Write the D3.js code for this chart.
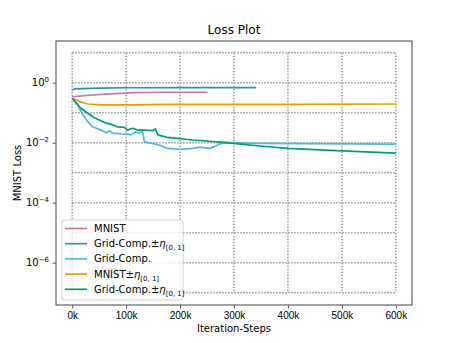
<!DOCTYPE html>
<html>
<head>
<meta charset="utf-8">
<script src="https://cdn.jsdelivr.net/npm/d3@7"></script>
<style>
  body { margin: 0; background: #fff; }
  svg { font-family: "DejaVu Sans", sans-serif; }
</style>
</head>
<body>
<div id="chart"></div>
<script>
// Series data (iteration steps, loss values)
const mnistX = [0, 53000, 115000, 176000, 251000];
const mnistY = [0.34, 0.41, 0.47, 0.48, 0.48];

const gridNoiseAX = [0, 5000, 50000, 100000, 200000, 341000];
const gridNoiseAY = [0.57, 0.62, 0.66, 0.68, 0.69, 0.69];

const gridX = [0, 10000, 20000, 29000, 38000, 53000, 63000, 69000, 75000, 84000, 94000, 103000, 109000, 118000, 124000, 130000, 134000, 152000, 162000, 176000, 200000, 224000, 236000, 255000, 264000, 273000, 286000, 348000, 600000];
const gridY = [0.302, 0.182, 0.0832, 0.0501, 0.0339, 0.0263, 0.0214, 0.0251, 0.0204, 0.0204, 0.0191, 0.0195, 0.0182, 0.0234, 0.0204, 0.0251, 0.0107, 0.00912, 0.00832, 0.00646, 0.00603, 0.00646, 0.00708, 0.00646, 0.00741, 0.00912, 0.0100, 0.00955, 0.00891];

const mnistNoiseX = [0, 16000, 29000, 53000, 115000, 176000, 400000, 600000];
const mnistNoiseY = [0.302, 0.23, 0.195, 0.182, 0.182, 0.19, 0.19, 0.195];

const gridNoiseBX = [0, 16000, 29000, 41000, 53000, 63000, 72000, 84000, 97000, 103000, 112000, 122000, 134000, 149000, 154000, 159000, 176000, 224000, 286000, 348000, 400000, 500000, 600000];
const gridNoiseBY = [0.302, 0.141, 0.0955, 0.0676, 0.0537, 0.0447, 0.0407, 0.0339, 0.0324, 0.0263, 0.0302, 0.0263, 0.0263, 0.0251, 0.0288, 0.0182, 0.0151, 0.0123, 0.0100, 0.00776, 0.00646, 0.00537, 0.00447];

const xTicks = [0, 100000, 200000, 300000, 400000, 500000, 600000];
const yTicks = [1, 1e-2, 1e-4, 1e-6];
const yGrid = [10, 1, 1e-1, 1e-2, 1e-3, 1e-4, 1e-5, 1e-6, 1e-7];

const series = [
  { name: 'MNIST', noise: false, color: '#cc79a7', x: mnistX, y: mnistY },
  { name: 'Grid-Comp.', noise: true, color: '#2b93b3', x: gridNoiseAX, y: gridNoiseAY },
  { name: 'Grid-Comp.', noise: false, color: '#56b4e9', x: gridX, y: gridY },
  { name: 'MNIST', noise: true, color: '#e69f00', x: mnistNoiseX, y: mnistNoiseY },
  { name: 'Grid-Comp.', noise: true, color: '#009e73', x: gridNoiseBX, y: gridNoiseBY }
];

const W = 458, H = 343;
const margin = { top: 41, right: 46, bottom: 38, left: 56 };
const width = W - margin.left - margin.right;
const height = H - margin.top - margin.bottom;

const svg = d3.select('#chart').append('svg')
  .attr('width', W).attr('height', H);

const g = svg.append('g')
  .attr('transform', `translate(${margin.left},${margin.top})`);

const x = d3.scaleLinear().domain([-30000, 630000]).range([0, width]);
const y = d3.scaleLog().domain([Math.pow(10, -7.41), Math.pow(10, 1.39)]).range([height, 0]);

// Grid box (dotted), bounded by outer ticks
const gridColor = '#999';
g.append('g').selectAll('line.h')
  .data(yGrid).enter().append('line')
  .attr('x1', x(0)).attr('x2', x(600000))
  .attr('y1', d => y(d)).attr('y2', d => y(d))
  .attr('stroke', gridColor).attr('stroke-width', 1.5)
  .attr('stroke-dasharray', '1.5,1.5');
g.append('g').selectAll('line.v')
  .data(xTicks).enter().append('line')
  .attr('x1', d => x(d)).attr('x2', d => x(d))
  .attr('y1', y(10)).attr('y2', y(1e-7))
  .attr('stroke', gridColor).attr('stroke-width', 1.5)
  .attr('stroke-dasharray', '1.5,1.5');

// Lines
const line = d3.line()
  .x(d => x(d[0]))
  .y(d => y(d[1]));

series.forEach(s => {
  g.append('path')
    .datum(s.x.map((v, i) => [v, s.y[i]]))
    .attr('fill', 'none')
    .attr('stroke', s.color)
    .attr('stroke-width', 1.7)
    .attr('stroke-linejoin', 'round')
    .attr('d', line);
});

// Axes
const xAxis = g.append('g')
  .attr('transform', `translate(0,${height})`)
  .call(d3.axisBottom(x).tickValues(xTicks).tickFormat(d => (d / 1000) + 'k').tickSize(3.5).tickPadding(3));
const yAxis = g.append('g')
  .call(d3.axisLeft(y).tickValues(yTicks).tickFormat('').tickSize(3.5));

[xAxis, yAxis].forEach(a => {
  a.select('.domain').remove();
  a.selectAll('line').attr('stroke', '#333').attr('stroke-width', 0.8);
  a.selectAll('text').attr('fill', '#000').style('font-size', '10px');
});

// Y tick labels as 10^n
const expLabels = ['0', '\u22122', '\u22124', '\u22126'];
yTicks.forEach((t, i) => {
  const tx = g.append('text')
    .attr('x', -7).attr('y', y(t) + 3.5)
    .attr('text-anchor', 'end')
    .style('font-size', '10px');
  tx.append('tspan').text('10');
  tx.append('tspan').attr('dy', -4.5).style('font-size', '7px').text(expLabels[i]);
});

// Frame
g.append('rect')
  .attr('width', width).attr('height', height)
  .attr('fill', 'none').attr('stroke', '#444').attr('stroke-width', 1);

// Title and labels
svg.append('text')
  .attr('x', margin.left + width / 2).attr('y', 34)
  .attr('text-anchor', 'middle').style('font-size', '12px')
  .text('Loss Plot');
svg.append('text')
  .attr('x', margin.left + width / 2).attr('y', 332)
  .attr('text-anchor', 'middle').style('font-size', '10px')
  .text('Iteration-Steps');
svg.append('text')
  .attr('transform', `translate(21,${margin.top + height / 2}) rotate(-90)`)
  .attr('text-anchor', 'middle').style('font-size', '10px')
  .text('MNIST Loss');

// Legend
const legend = svg.append('g').attr('transform', 'translate(62,220)');
legend.append('rect')
  .attr('width', 121).attr('height', 80).attr('rx', 2.5)
  .attr('fill', '#fff').attr('fill-opacity', 0.8)
  .attr('stroke', '#d0d0d0').attr('stroke-width', 1);

series.forEach((s, i) => {
  const ly = 8.5 + i * 15.2;
  legend.append('line')
    .attr('x1', 3).attr('x2', 25).attr('y1', ly).attr('y2', ly)
    .attr('stroke', s.color).attr('stroke-width', 1.7);
  const t = legend.append('text')
    .attr('x', 32).attr('y', ly + 3.5)
    .style('font-size', '10px');
  t.append('tspan').text(s.name);
  if (s.noise) {
    t.append('tspan').text('\u00b1');
    t.append('tspan').style('font-style', 'italic').text('\u03b7');
    t.append('tspan').attr('dy', 3).style('font-size', '7px').text('[0, 1]');
  }
});
</script>
</body>
</html>
